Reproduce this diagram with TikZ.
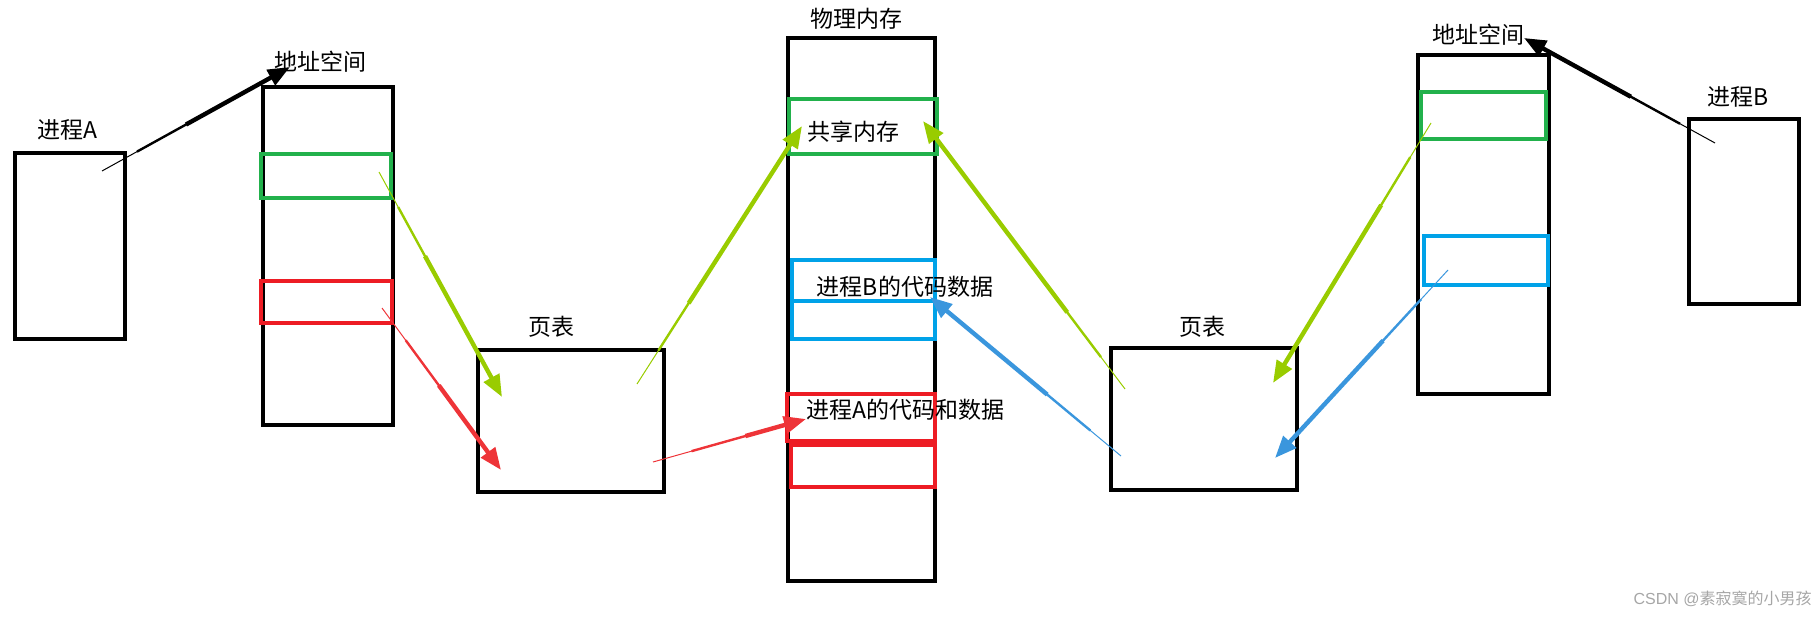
\documentclass[tikz,border=0pt]{standalone}
\usepackage{fontspec}
\setmainfont{Noto Sans CJK SC}
\newfontfamily\wmfont{Liberation Sans}
\usetikzlibrary{arrows.meta, positioning, calc}

\definecolor{boxgreen}{RGB}{34,177,76}
\definecolor{boxred}{RGB}{237,28,36}
\definecolor{boxblue}{RGB}{0,162,232}
\definecolor{arrgreen}{RGB}{153,204,0}
\definecolor{arrred}{RGB}{238,52,56}
\definecolor{arrblue}{RGB}{58,150,221}

\begin{document}
\begin{tikzpicture}[x=0.5pt, y=-0.5pt,
    every node/.style={font=\fontsize{11.5}{14}\selectfont},
    blk/.style={draw, rectangle, line width=2pt, inner sep=0pt},
    seg/.style={draw=#1, rectangle, line width=2pt, inner sep=0pt},
    txt/.style={inner sep=0pt},
    arr/.style={draw=#1, line width=0.5pt, shorten >=4pt,
        postaction={draw=#1, line width=1.2pt, shorten <=20pt, shorten >=4pt},
        postaction={draw=#1, line width=2.2pt, shorten <=48pt, shorten >=0pt,
            -{Triangle[length=11pt,width=8.5pt]}}}]
    \useasboundingbox (0,0) rectangle (1820,620);
    % process A and its address space
    \node[blk, minimum width=55pt, minimum height=93pt] (procA) at (70,246) {};
    \node[txt] (procAlbl) at (67,130) {进程A};
    \node[blk, minimum width=65pt, minimum height=169pt] (asA) at (328,256) {};
    \node[txt] (asAlbl) at (320,62) {地址空间};
    \node[seg=boxgreen, minimum width=65pt, minimum height=22pt] (asAgreen) at (326,176) {};
    \node[seg=boxred, minimum width=65.5pt, minimum height=21pt] (asAred) at (326.5,302) {};
    % page table A
    \node[blk, minimum width=93pt, minimum height=71pt] (ptA) at (571,421) {};
    \node[txt] (ptAlbl) at (551,327) {页表};
    % physical memory
    \node[blk, minimum width=73.5pt, minimum height=271.5pt] (mem) at (861.5,309.5) {};
    \node[txt] (memlbl) at (856,19) {物理内存};
    \node[seg=boxgreen, minimum width=74pt, minimum height=27.5pt] (shared) at (863,126.5) {};
    \node[seg=boxblue, minimum width=71.5pt, minimum height=20.5pt] (codeB) at (863.5,280.5) {};
    \node[seg=boxblue, minimum width=71.5pt, minimum height=19pt] (dataB) at (863.5,320) {};
    \node[seg=boxred, minimum width=74pt, minimum height=23.5pt] (codeA) at (861,417.5) {};
    \node[seg=boxred, minimum width=72pt, minimum height=21pt] (dataA) at (863,466) {};
    \node[txt] (sharedlbl) at (853,132) {共享内存};
    \node[txt] (codeBlbl) at (905,287) {进程B的代码数据};
    \node[txt] (codeAlbl) at (905,410) {进程A的代码和数据};
    % page table B
    \node[blk, minimum width=93pt, minimum height=71pt] (ptB) at (1204,419) {};
    \node[txt] (ptBlbl) at (1202,327) {页表};
    % process B and its address space
    \node[blk, minimum width=65.5pt, minimum height=169.5pt] (asB) at (1483.5,224.5) {};
    \node[txt] (asBlbl) at (1478,35) {地址空间};
    \node[seg=boxgreen, minimum width=62.5pt, minimum height=23.5pt] (asBgreen) at (1483.5,115.5) {};
    \node[seg=boxblue, minimum width=62pt, minimum height=24.5pt] (asBblue) at (1486,260.5) {};
    \node[blk, minimum width=55pt, minimum height=92.5pt] (procB) at (1744,211.5) {};
    \node[txt] (procBlbl) at (1738,97) {进程B};
    % arrow ends
    \coordinate (pA) at (102,171);
    \coordinate (asAtip) at (290,67);
    \coordinate (gA1) at (379,172);
    \coordinate (gA1tip) at (502,397);
    \coordinate (rA1) at (382,308);
    \coordinate (rA1tip) at (501,470);
    \coordinate (gA2) at (637,384);
    \coordinate (gA2tip) at (802,126);
    \coordinate (rA2) at (653,462);
    \coordinate (rA2tip) at (806,419);
    \coordinate (gB2) at (1125,389);
    \coordinate (gB2tip) at (923,121);
    \coordinate (bB2) at (1121,456);
    \coordinate (bB2tip) at (930,297);
    \coordinate (gB1) at (1431,123);
    \coordinate (gB1tip) at (1273,383);
    \coordinate (bB1) at (1448,270);
    \coordinate (bB1tip) at (1275,458);
    \coordinate (pB) at (1715,143);
    \coordinate (asBtip) at (1524,38);
    \draw[arr=black] (pA) -- (asAtip);
    \draw[arr=arrgreen] (gA1) -- (gA1tip);
    \draw[arr=arrred] (rA1) -- (rA1tip);
    \draw[arr=arrgreen] (gA2) -- (gA2tip);
    \draw[arr=arrred] (rA2) -- (rA2tip);
    \draw[arr=arrgreen] (gB2) -- (gB2tip);
    \draw[arr=arrblue] (bB2) -- (bB2tip);
    \draw[arr=arrgreen] (gB1) -- (gB1tip);
    \draw[arr=arrblue] (bB1) -- (bB1tip);
    \draw[arr=black] (pB) -- (asBtip);
    % watermark
    \node[txt, text=gray!70, font=\fontsize{8}{10}\selectfont, anchor=east] (mark) at (1812,599) {{\wmfont CSDN @}素寂寞的小男孩};
\end{tikzpicture}
\end{document}
